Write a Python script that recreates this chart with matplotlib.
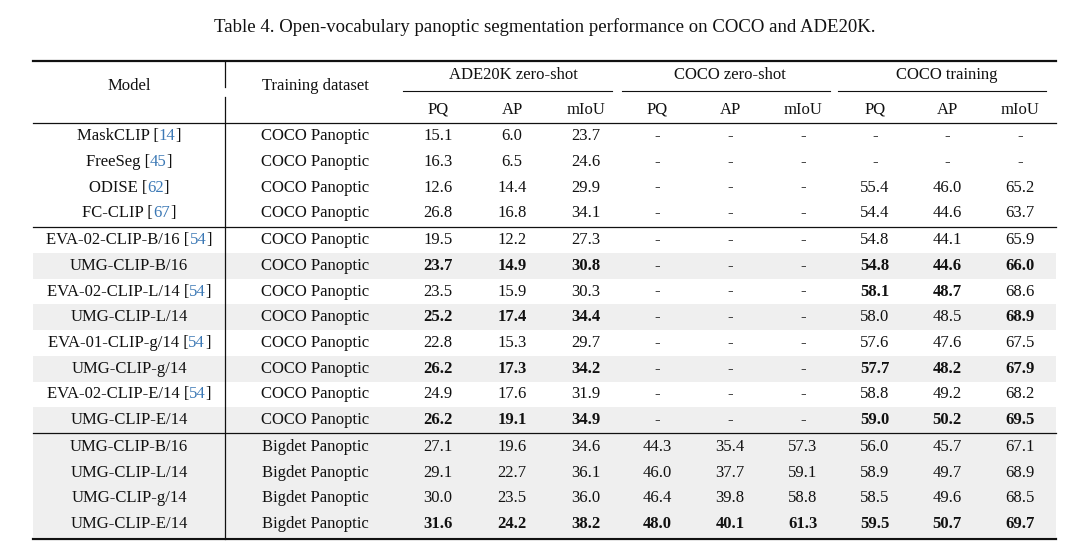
import matplotlib
matplotlib.use('Agg')
import matplotlib.pyplot as plt

# 表格数据
models = ['MaskCLIP', 'FreeSeg', 'ODISE', 'FC-CLIP',
          'EVA-02-CLIP-B/16', 'UMG-CLIP-B/16', 'EVA-02-CLIP-L/14', 'UMG-CLIP-L/14',
          'EVA-01-CLIP-g/14', 'UMG-CLIP-g/14', 'EVA-02-CLIP-E/14', 'UMG-CLIP-E/14',
          'UMG-CLIP-B/16', 'UMG-CLIP-L/14', 'UMG-CLIP-g/14', 'UMG-CLIP-E/14']
refs = ['14', '45', '62', '67', '54', '', '54', '', '54', '', '54', '', '', '', '', '']
datasets = ['COCO Panoptic'] * 12 + ['Bigdet Panoptic'] * 4

ade_pq = ['15.1', '16.3', '12.6', '26.8', '19.5', '23.7', '23.5', '25.2', '22.8', '26.2', '24.9', '26.2', '27.1', '29.1', '30.0', '31.6']
ade_ap = ['6.0', '6.5', '14.4', '16.8', '12.2', '14.9', '15.9', '17.4', '15.3', '17.3', '17.6', '19.1', '19.6', '22.7', '23.5', '24.2']
ade_miou = ['23.7', '24.6', '29.9', '34.1', '27.3', '30.8', '30.3', '34.4', '29.7', '34.2', '31.9', '34.9', '34.6', '36.1', '36.0', '38.2']
coco_zs_pq = ['-'] * 12 + ['44.3', '46.0', '46.4', '48.0']
coco_zs_ap = ['-'] * 12 + ['35.4', '37.7', '39.8', '40.1']
coco_zs_miou = ['-'] * 12 + ['57.3', '59.1', '58.8', '61.3']
coco_tr_pq = ['-', '-', '55.4', '54.4', '54.8', '54.8', '58.1', '58.0', '57.6', '57.7', '58.8', '59.0', '56.0', '58.9', '58.5', '59.5']
coco_tr_ap = ['-', '-', '46.0', '44.6', '44.1', '44.6', '48.7', '48.5', '47.6', '48.2', '49.2', '50.2', '45.7', '49.7', '49.6', '50.7']
coco_tr_miou = ['-', '-', '65.2', '63.7', '65.9', '66.0', '68.6', '68.9', '67.5', '67.9', '68.2', '69.5', '67.1', '68.9', '68.5', '69.7']

# 加粗的数值列 (行号 -> 列号)
bold_cells = {5: [0, 1, 2, 6, 7, 8], 6: [6, 7], 7: [0, 1, 2, 8],
              9: [0, 1, 2, 6, 7, 8], 11: [0, 1, 2, 6, 7, 8],
              15: [0, 1, 2, 3, 4, 5, 6, 7, 8]}
shaded_rows = [5, 7, 9, 11, 12, 13, 14, 15]

groups = ['ADE20K zero-shot', 'COCO zero-shot', 'COCO training']
metrics = ['PQ', 'AP', 'mIoU']

title = 'Table 4. Open-vocabulary panoptic segmentation performance on COCO and ADE20K.'

plt.rcParams['font.family'] = ['Liberation Serif', 'DejaVu Serif']
FS = 12
TXT = '#111111'
CITE = '#3b78b5'
GRAY = '#efefef'

fig = plt.figure(figsize=(10.8, 5.57), dpi=100)
ax = fig.add_axes([0, 0, 1, 1])
ax.set_xlim(0, 1080)
ax.set_ylim(557, 0)
ax.axis('off')

x0, x1 = 33, 1056
x_model, x_data = 129, 315
x_vline = 225
num_x = [438, 512, 586, 657, 730, 803, 875, 947, 1020]
group_x = [513, 730, 947]
group_lines = [(403, 612), (622, 830), (838, 1046)]
row_y0, row_h = 136, 25.75
row_y = []
for i in range(16):
    extra = 1 if i >= 4 else 0
    extra += 1 if i >= 12 else 0
    row_y.append(row_y0 + i * row_h + extra)

ax.text(545, 27, title, ha='center', va='center', fontsize=13.5, color=TXT)

# 灰色背景
for i in shaded_rows:
    ax.add_patch(plt.Rectangle((x0, row_y[i] - row_h / 2), x1 - x0, row_h,
                               facecolor=GRAY, edgecolor='none', zorder=0))

# 表头
ax.text(x_model, 86, 'Model', ha='center', va='center', fontsize=FS, color=TXT)
ax.text(x_data, 86, 'Training dataset', ha='center', va='center', fontsize=FS, color=TXT)
for g, gx, (a, b) in zip(groups, group_x, group_lines):
    ax.text(gx, 75, g, ha='center', va='center', fontsize=FS, color=TXT)
    ax.plot([a, b], [91, 91], color=TXT, lw=0.8)
for k, nx in enumerate(num_x):
    ax.text(nx, 110, metrics[k % 3], ha='center', va='center', fontsize=FS, color=TXT)

# 横线
ax.plot([x0, x1], [61, 61], color=TXT, lw=1.6)
ax.plot([x0, x1], [123, 123], color=TXT, lw=0.9)
ax.plot([x0, x1], [227, 227], color=TXT, lw=0.9)
ax.plot([x0, x1], [433, 433], color=TXT, lw=0.9)
ax.plot([x0, x1], [539, 539], color=TXT, lw=1.6)
# 竖线（表头处有断开）
ax.plot([x_vline, x_vline], [61, 87], color=TXT, lw=0.9)
ax.plot([x_vline, x_vline], [97, 539], color=TXT, lw=0.9)

fig.canvas.draw()
renderer = fig.canvas.get_renderer()


def text_width(s):
    t = ax.text(0, 0, s, fontsize=FS)
    w = t.get_window_extent(renderer).width
    t.remove()
    return w


columns = [ade_pq, ade_ap, ade_miou, coco_zs_pq, coco_zs_ap, coco_zs_miou,
           coco_tr_pq, coco_tr_ap, coco_tr_miou]

for i in range(16):
    y = row_y[i]
    if refs[i]:
        parts = [(models[i] + ' [', TXT), (refs[i], CITE), (']', TXT)]
        widths = [text_width(p) for p, _ in parts]
        xs = x_model - sum(widths) / 2
        for (p, c), w in zip(parts, widths):
            ax.text(xs, y, p, ha='left', va='center', fontsize=FS, color=c)
            xs += w
    else:
        ax.text(x_model, y, models[i], ha='center', va='center', fontsize=FS, color=TXT)
    ax.text(x_data, y, datasets[i], ha='center', va='center', fontsize=FS, color=TXT)
    for k, col in enumerate(columns):
        bold = k in bold_cells.get(i, [])
        ax.text(num_x[k], y, col[i], ha='center', va='center', fontsize=FS,
                color=TXT, fontweight='bold' if bold else 'normal')

fig.savefig('out.png', dpi=100)
